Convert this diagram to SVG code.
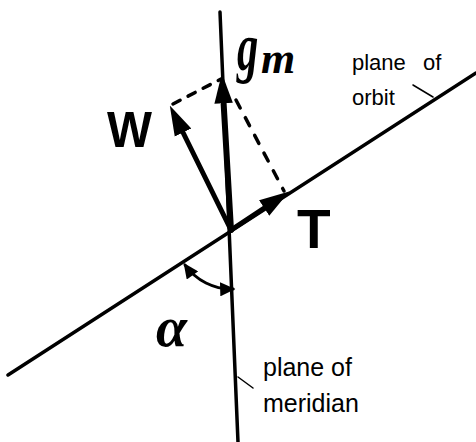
<svg xmlns="http://www.w3.org/2000/svg" width="476" height="442" viewBox="0 0 476 442">
<style>
.ln{stroke:#000;fill:none;stroke-linecap:round}
.lbl{font-family:"Liberation Sans",Arial,sans-serif;fill:#000}
.hand{font-family:"Liberation Sans",Arial,sans-serif;font-weight:bold;fill:#000}
.ital{font-family:"Liberation Serif","Times New Roman",serif;font-style:italic;font-weight:bold;fill:#000}
</style>
<defs>
<marker id="big" markerUnits="userSpaceOnUse" markerWidth="30" markerHeight="20" viewBox="0 0 26 16" refX="15" refY="8" orient="auto">
<path d="M0,0 L26,8 L0,16 Z" fill="#000"/>
</marker>
<marker id="small" markerUnits="userSpaceOnUse" markerWidth="16" markerHeight="14" viewBox="0 0 13 12" refX="11" refY="6" orient="auto-start-reverse">
<path d="M0,0 L13,6 L0,12 Z" fill="#000"/>
</marker>
</defs>
<g id="connectors">
<line id="meridian" class="ln" x1="220" y1="12" x2="238" y2="442" stroke-width="3.5"/>
<line id="orbit" class="ln" x1="8" y1="375" x2="476" y2="73" stroke-width="3.5"/>
<line id="gm-arrow" class="ln" x1="231" y1="230" x2="222.6" y2="86" stroke-width="6" marker-end="url(#big)"/>
<line id="w-arrow" class="ln" x1="231" y1="230" x2="175.4" y2="117" stroke-width="5" marker-end="url(#big)"/>
<line id="t-arrow" class="ln" x1="231" y1="230" x2="278.6" y2="198.5" stroke-width="5" marker-end="url(#big)"/>
<line id="dash-w" class="ln" x1="173" y1="104" x2="221" y2="79" stroke-width="3.5" stroke-dasharray="8 9"/>
<line id="dash-t" class="ln" x1="236" y1="100" x2="284" y2="191" stroke-width="3.5" stroke-dasharray="9 11"/>
<path id="alpha-arc" class="ln" d="M185,265 A57,57 0 0 0 233,289" stroke-width="3" marker-start="url(#small)" marker-end="url(#small)"/>
<line id="orbit-leader" class="ln" x1="413" y1="85" x2="433" y2="97" stroke-width="1.5"/>
<line id="meridian-leader" class="ln" x1="238" y1="377" x2="253" y2="388" stroke-width="1.5"/>
</g>
<g id="label-gm">
<text class="ital" transform="translate(237,70) scale(0.85,1.35)" font-size="50">g</text>
<text class="ital" x="261" y="73" font-size="44">m</text>
</g>
<g id="label-W"><text class="hand" x="107" y="147" font-size="50" textLength="45" lengthAdjust="spacingAndGlyphs">W</text></g>
<g id="label-T"><text class="hand" x="297" y="248" font-size="55">T</text></g>
<g id="label-alpha"><text class="ital" x="156" y="346" font-size="56">α</text></g>
<g id="label-orbit">
<text class="lbl" x="352" y="70" font-size="22">plane</text>
<text class="lbl" x="423" y="70" font-size="22">of</text>
<text class="lbl" x="352" y="105" font-size="22">orbit</text>
</g>
<g id="label-meridian">
<text class="lbl" x="263" y="376" font-size="25">plane of</text>
<text class="lbl" x="263" y="412" font-size="25">meridian</text>
</g>
</svg>
